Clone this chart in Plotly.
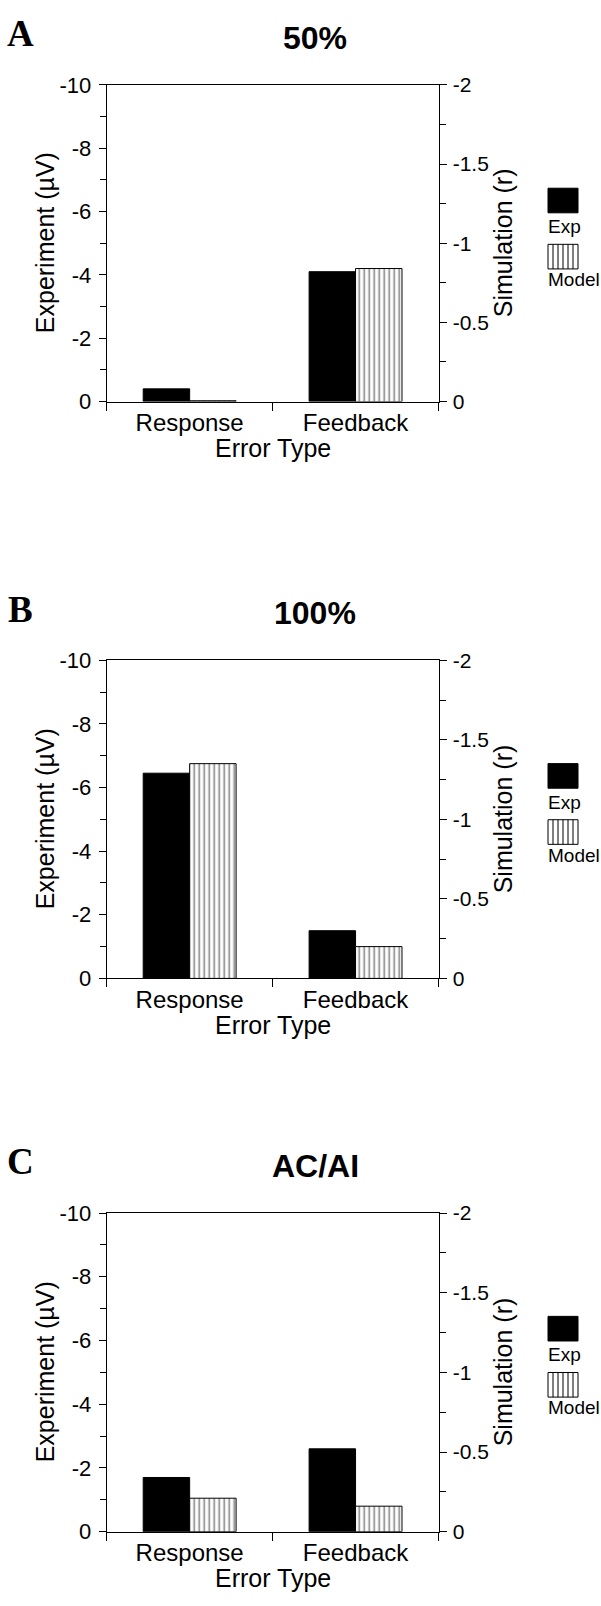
import plotly.graph_objects as go

# ---------------- data ----------------
categories = ["Response", "Feedback"]
panel_letters = ["A", "B", "C"]
panel_titles = ["50%", "100%", "AC/AI"]

# Experiment (µV), left axis
exp_50 = [-0.4, -4.1]
exp_100 = [-6.45, -1.5]
exp_acai = [-1.7, -2.6]

# Simulation (r), right axis
model_50 = [-0.005, -0.84]
model_100 = [-1.35, -0.2]
model_acai = [-0.21, -0.16]

left_ticks = [-10, -8, -6, -4, -2, 0]
left_ticktext = ["-10", "-8", "-6", "-4", "-2", "0"]
right_ticks = [-2, -1.5, -1, -0.5, 0]
right_ticktext = ["-2", "-1.5", "-1", "-0.5", "0"]

exp_series = [exp_50, exp_100, exp_acai]
model_series = [model_50, model_100, model_acai]

# ---------------- layout helpers ----------------
W, H = 601, 1606
def px(x):
    return x / W
def py(y):
    return 1 - y / H

X_L, X_R = 106.7, 438.5
TOPS = [74.0, 658.5, 1220.0]
BOTS = [395.7, 981.7, 1543.7]
FONT = "Liberation Sans"
SERIF = "Liberation Serif"

fig = go.Figure()
layout = dict(
    width=W, height=H,
    margin=dict(l=0, r=0, t=0, b=0),
    paper_bgcolor="white", plot_bgcolor="white",
    showlegend=False,
    font=dict(family=FONT, color="black"),
)
annotations = []
shapes = []

for i in range(3):
    xn = i + 1
    yl = 4 * i + 1
    yr = 4 * i + 2
    yli = 4 * i + 3
    yri = 4 * i + 4
    xname = "x" if xn == 1 else f"x{xn}"
    ylname = "y" if yl == 1 else f"y{yl}"
    yrname = f"y{yr}"

    fig.add_trace(go.Bar(
        x=categories, y=exp_series[i], xaxis=xname, yaxis=ylname,
        name="Exp", width=0.28, offset=-0.28,
        marker=dict(color="black", line=dict(color="black", width=1)),
    ))
    fig.add_trace(go.Bar(
        x=categories, y=model_series[i], xaxis=xname, yaxis=yrname,
        name="Model", width=0.28, offset=0.0,
        marker=dict(color="white", line=dict(color="black", width=1),
                    pattern=dict(shape="|", size=5, solidity=0.3,
                                 fgcolor="black", bgcolor="white")),
    ))

    dom_y = [py(BOTS[i]), py(TOPS[i])]
    xkey = "xaxis" if xn == 1 else f"xaxis{xn}"
    layout[xkey] = dict(
        domain=[px(X_L), px(X_R)], anchor=ylname,
        type="category", categoryorder="array", categoryarray=categories,
        range=[-0.5, 1.5], tickson="boundaries",
        ticks="outside", ticklen=8, tickcolor="black", tickwidth=1,
        showline=True, linecolor="black", linewidth=1, mirror=True,
        showgrid=False, zeroline=False,
        tickfont=dict(family=FONT, size=24, color="black"),
        fixedrange=True,
    )
    ykey_l = "yaxis" if yl == 1 else f"yaxis{yl}"
    layout[ykey_l] = dict(
        domain=dom_y, anchor=xname, side="left",
        range=[0, -10], tickvals=left_ticks, ticktext=left_ticktext,
        ticks="outside", ticklen=7, tickcolor="black", tickwidth=1,
        minor=dict(dtick=1, tick0=0, ticks="outside", ticklen=6,
                   tickcolor="black", tickwidth=1, showgrid=False),
        showline=True, linecolor="black", linewidth=1,
        showgrid=False, zeroline=False,
        tickfont=dict(family=FONT, size=22, color="black"),
        ticklabelstandoff=3,
    )
    layout[f"yaxis{yr}"] = dict(
        domain=dom_y, anchor=xname, overlaying=ylname, side="right",
        range=[0, -2], tickvals=right_ticks, ticktext=right_ticktext,
        ticks="outside", ticklen=7, tickcolor="black", tickwidth=1,
        minor=dict(dtick=0.25, tick0=0, ticks="outside", ticklen=6,
                   tickcolor="black", tickwidth=1, showgrid=False),
        showline=True, linecolor="black", linewidth=1,
        showgrid=False, zeroline=False,
        tickfont=dict(family=FONT, size=21, color="black"),
        ticklabelstandoff=2,
    )
    # inside halves of the crossing tick marks
    layout[f"yaxis{yli}"] = dict(
        domain=dom_y, anchor=xname, overlaying=ylname, side="left",
        range=[0, -10], tickvals=left_ticks, showticklabels=False,
        ticks="inside", ticklen=7, tickcolor="black", tickwidth=1,
        minor=dict(dtick=1, tick0=0, ticks="inside", ticklen=6,
                   tickcolor="black", tickwidth=1, showgrid=False),
        showline=False, showgrid=False, zeroline=False,
    )
    layout[f"yaxis{yri}"] = dict(
        domain=dom_y, anchor=xname, overlaying=ylname, side="right",
        range=[0, -2], tickvals=right_ticks, showticklabels=False,
        ticks="inside", ticklen=7, tickcolor="black", tickwidth=1,
        minor=dict(dtick=0.25, tick0=0, ticks="inside", ticklen=6,
                   tickcolor="black", tickwidth=1, showgrid=False),
        showline=False, showgrid=False, zeroline=False,
    )

    top, bot = TOPS[i], BOTS[i]
    mid = (top + bot) / 2
    # panel letter
    annotations.append(dict(
        text=f"<b>{panel_letters[i]}</b>", x=px(21), y=py(top - 52),
        xref="paper", yref="paper", showarrow=False,
        xanchor="center", yanchor="middle",
        font=dict(family=SERIF, size=37, color="black")))
    # panel title
    annotations.append(dict(
        text=f"<b>{panel_titles[i]}</b>", x=px(315), y=py(top - 48),
        xref="paper", yref="paper", showarrow=False,
        xanchor="center", yanchor="middle",
        font=dict(family=FONT, size=32, color="black")))
    # axis titles
    annotations.append(dict(
        text="Experiment (µV)", x=px(45), y=py(mid), textangle=-90,
        xref="paper", yref="paper", showarrow=False,
        xanchor="center", yanchor="middle",
        font=dict(family=FONT, size=25, color="black")))
    annotations.append(dict(
        text="Simulation (r)", x=px(503), y=py(mid), textangle=-90,
        xref="paper", yref="paper", showarrow=False,
        xanchor="center", yanchor="middle",
        font=dict(family=FONT, size=25, color="black")))
    annotations.append(dict(
        text="Error Type", x=px((X_L + X_R) / 2), y=py(bot + 47),
        xref="paper", yref="paper", showarrow=False,
        xanchor="center", yanchor="middle",
        font=dict(family=FONT, size=25, color="black")))
    # legend (text below swatch)
    annotations.append(dict(
        text="Exp", x=px(546), y=py(top + 144),
        xref="paper", yref="paper", showarrow=False,
        xanchor="left", yanchor="middle",
        font=dict(family=FONT, size=19, color="black")))
    annotations.append(dict(
        text="Model", x=px(546), y=py(top + 198),
        xref="paper", yref="paper", showarrow=False,
        xanchor="left", yanchor="middle",
        font=dict(family=FONT, size=19, color="black")))
    shapes.append(dict(
        type="rect", xref="paper", yref="paper",
        x0=px(548), x1=px(578), y0=py(top + 130), y1=py(top + 105),
        fillcolor="black", line=dict(color="black", width=1)))
    shapes.append(dict(
        type="rect", xref="paper", yref="paper",
        x0=px(548), x1=px(578), y0=py(top + 187), y1=py(top + 162),
        fillcolor="white", line=dict(color="black", width=1)))
    sx = 553
    while sx < 578:
        shapes.append(dict(
            type="line", xref="paper", yref="paper",
            x0=px(sx), x1=px(sx), y0=py(top + 187), y1=py(top + 162),
            line=dict(color="black", width=1)))
        sx += 5

layout["annotations"] = annotations
layout["shapes"] = shapes
fig.update_layout(**layout)
fig.write_html("out.html")
